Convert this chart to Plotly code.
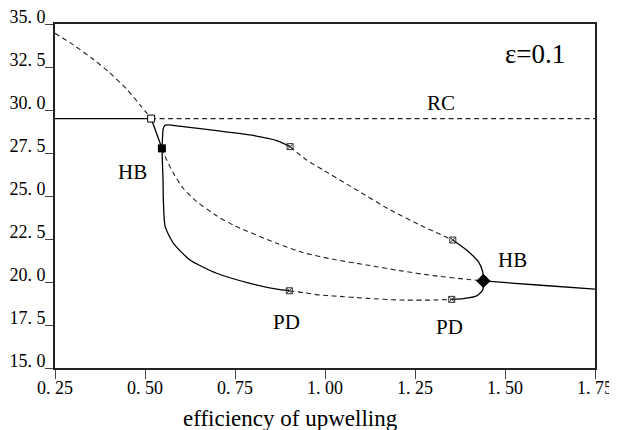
import plotly.graph_objects as go

# ---- data ----
x_ticks = [0.25, 0.50, 0.75, 1.00, 1.25, 1.50, 1.75]
x_tick_text = ["0. 25", "0. 50", "0. 75", "1. 00", "1. 25", "1. 50", "1. 75"]
y_ticks = [15.0, 17.5, 20.0, 22.5, 25.0, 27.5, 30.0, 32.5, 35.0]
y_tick_text = ["15. 0", "17. 5", "20. 0", "22. 5", "25. 0", "27. 5", "30. 0", "32. 5", "35. 0"]

# RC branch (horizontal)
rc_level = 29.5
rc_stable_x = [0.25, 0.517]
rc_unstable_x = [0.517, 1.75]

# steady-state branch
ss_unst1_x = [0.25, 0.30, 0.35, 0.40, 0.45, 0.49, 0.517]
ss_unst1_y = [34.46, 33.8, 33.05, 32.2, 31.2, 30.2, 29.5]
ss_stab1_x = [0.517, 0.532, 0.547]
ss_stab1_y = [29.5, 28.65, 27.77]
ss_unst2_x = [0.547, 0.556, 0.579, 0.606, 0.644, 0.699, 0.745, 0.866, 0.940, 1.023, 1.116, 1.208, 1.301, 1.394, 1.440]
ss_unst2_y = [27.77, 27.29, 26.32, 25.45, 24.67, 23.85, 23.31, 22.25, 21.70, 21.32, 20.99, 20.66, 20.37, 20.16, 20.06]
ss_stab2_x = [1.440, 1.60, 1.75]
ss_stab2_y = [20.06, 19.81, 19.58]

# periodic branch: maxima
pmax_stab_x = [0.547, 0.549, 0.550, 0.553, 0.560, 0.606, 0.699, 0.792, 0.866, 0.903]
pmax_stab_y = [27.77, 28.5, 28.85, 29.05, 29.13, 29.03, 28.80, 28.55, 28.22, 27.87]
pmax_unst_x = [0.903, 0.949, 0.995, 1.088, 1.181, 1.273, 1.355]
pmax_unst_y = [27.87, 27.09, 26.51, 25.35, 24.19, 23.22, 22.44]
pmax_stab2_x = [1.355, 1.393, 1.426, 1.438, 1.440]
pmax_stab2_y = [22.44, 21.86, 21.18, 20.60, 20.06]

# periodic branch: minima
pmin_stab_x = [0.547, 0.550, 0.551, 0.556, 0.579, 0.625, 0.699, 0.792, 0.866, 0.901]
pmin_stab_y = [27.77, 26.0, 24.77, 23.22, 22.25, 21.28, 20.51, 19.92, 19.58, 19.49]
pmin_unst_x = [0.901, 0.940, 0.986, 1.023, 1.116, 1.208, 1.301, 1.352]
pmin_unst_y = [19.49, 19.38, 19.24, 19.19, 19.05, 18.95, 18.95, 18.99]
pmin_stab2_x = [1.352, 1.384, 1.421, 1.438, 1.440]
pmin_stab2_y = [18.99, 19.03, 19.19, 19.53, 20.06]

# special points
tc_pt = (0.517, 29.5)
hb1_pt = (0.547, 27.77)
hb2_pt = (1.440, 20.06)
pd_x = [0.903, 1.355, 0.901, 1.352]
pd_y = [27.87, 22.44, 19.49, 18.99]

labels = [
    ("HB", 0.464, 26.4, 21),
    ("HB", 1.522, 21.3, 21),
    ("PD", 0.894, 17.65, 21),
    ("PD", 1.347, 17.4, 21),
    ("RC", 1.322, 30.4, 21),
    ("\u03b5=0.1", 1.583, 33.25, 27),
]

FONT = "Times New Roman, Liberation Serif, DejaVu Serif, Nimbus Roman, serif"
SOLID = dict(color="black", width=1.3)
DASH = dict(color="#222", width=1.1, dash="5px,3.5px")

# the page body has an 8px default margin; offset the figure so that the
# plot area lands where the reference has it
PAGE_OFF = 8
W, H = 617 - PAGE_OFF, 430 - PAGE_OFF
PLOT_L, PLOT_T, PLOT_W, PLOT_H = 55, 24, 540, 344

fig = go.Figure()


def add_line(x, y, style, shape="spline"):
    fig.add_trace(go.Scatter(x=x, y=y, mode="lines",
                             line=dict(**style, shape=shape, smoothing=0.6),
                             hoverinfo="skip", showlegend=False))


add_line(rc_stable_x, [rc_level] * len(rc_stable_x), SOLID, "linear")
add_line(rc_unstable_x, [rc_level] * len(rc_unstable_x), DASH, "linear")
add_line(ss_unst1_x, ss_unst1_y, DASH)
add_line(ss_stab1_x, ss_stab1_y, SOLID)
add_line(ss_unst2_x, ss_unst2_y, DASH)
add_line(ss_stab2_x, ss_stab2_y, SOLID)
add_line(pmax_stab_x, pmax_stab_y, SOLID)
add_line(pmax_unst_x, pmax_unst_y, DASH)
add_line(pmax_stab2_x, pmax_stab2_y, SOLID)
add_line(pmin_stab_x, pmin_stab_y, SOLID)
add_line(pmin_unst_x, pmin_unst_y, DASH)
add_line(pmin_stab2_x, pmin_stab2_y, SOLID)

fig.add_trace(go.Scatter(x=[tc_pt[0]], y=[tc_pt[1]], mode="markers",
                         marker=dict(symbol="square", size=7, color="white",
                                     line=dict(color="black", width=1)),
                         hoverinfo="skip", showlegend=False))
fig.add_trace(go.Scatter(x=[hb1_pt[0]], y=[hb1_pt[1]], mode="markers",
                         marker=dict(symbol="square", size=8, color="black"),
                         hoverinfo="skip", showlegend=False))
fig.add_trace(go.Scatter(x=[hb2_pt[0]], y=[hb2_pt[1]], mode="markers",
                         marker=dict(symbol="diamond", size=11, color="black"),
                         hoverinfo="skip", showlegend=False))
fig.add_trace(go.Scatter(x=pd_x, y=pd_y, mode="markers",
                         marker=dict(symbol="square-x-open", size=6, color="#333",
                                     line=dict(width=1)),
                         hoverinfo="skip", showlegend=False))

for txt, lx, ly, fs in labels:
    fig.add_annotation(x=lx, y=ly, text=txt, showarrow=False,
                       font=dict(family=FONT, size=fs, color="black"))

fig.add_annotation(xref="paper", yref="paper", x=(290 - PLOT_L) / PLOT_W,
                   y=-(418 - (PLOT_T + PLOT_H)) / PLOT_H, yanchor="middle",
                   xanchor="center",
                   text="efficiency of upwelling", showarrow=False,
                   font=dict(family=FONT, size=23, color="black"))

ml = PLOT_L - PAGE_OFF
mt = PLOT_T - PAGE_OFF
fig.update_layout(
    width=W, height=H,
    margin=dict(l=ml, r=W - ml - PLOT_W, t=mt, b=H - mt - PLOT_H, autoexpand=False),
    paper_bgcolor="white", plot_bgcolor="white",
    font=dict(family=FONT, color="black"),
    showlegend=False,
)
fig.update_xaxes(range=[0.25, 1.75], tickvals=x_ticks, ticktext=x_tick_text,
                 showgrid=False, zeroline=False, showline=True, linecolor="#222",
                 linewidth=1.6, mirror=True, ticks="outside", ticklen=9, tickwidth=1,
                 tickcolor="#444", tickfont=dict(family=FONT, size=18, color="black"),
                 ticklabelstandoff=-6, ticklabeloverflow="allow", automargin=False)
fig.update_yaxes(range=[15, 35], tickvals=y_ticks, ticktext=y_tick_text,
                 showgrid=False, zeroline=False, showline=True, linecolor="#222",
                 linewidth=1.6, mirror=True, ticks="outside", ticklen=8, tickwidth=1,
                 tickcolor="#444", tickfont=dict(family=FONT, size=18, color="black"),
                 ticklabelshift=-7, ticklabelstandoff=-4, ticklabeloverflow="allow",
                 automargin=False)

fig.write_html("out.html")
